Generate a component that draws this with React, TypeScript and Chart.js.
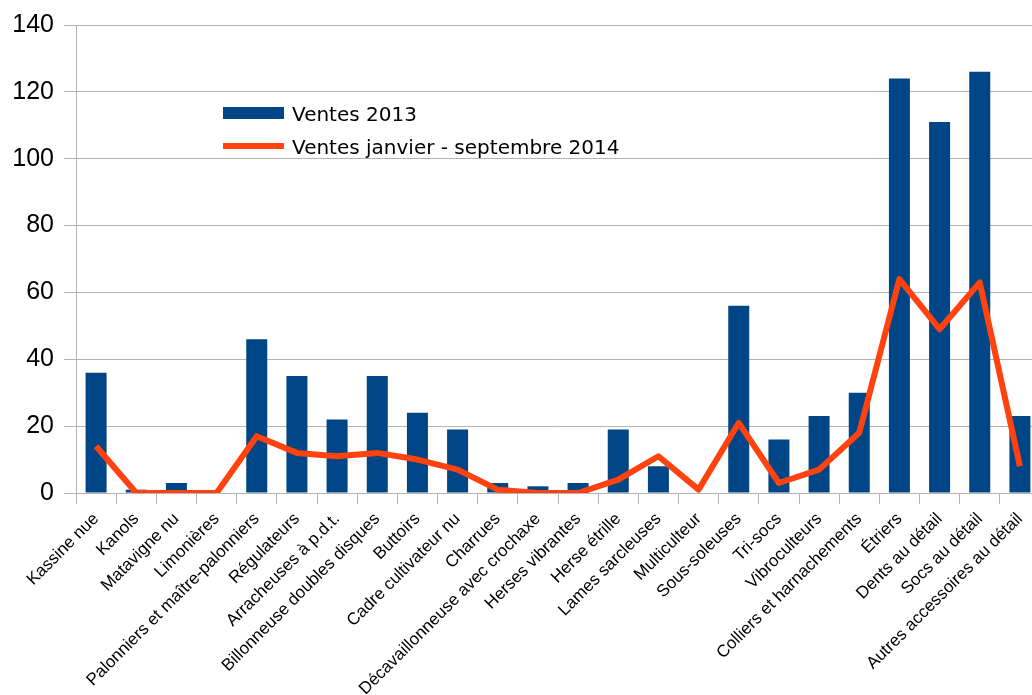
import React, { useEffect, useRef } from "react";
import { Chart, registerables } from "chart.js";

Chart.register(...registerables);

const categories = [
  "Kassine nue",
  "Kanols",
  "Matavigne nu",
  "Limonières",
  "Palonniers et maître-palonniers",
  "Régulateurs",
  "Arracheuses à p.d.t.",
  "Billonneuse doubles disques",
  "Buttoirs",
  "Cadre cultivateur nu",
  "Charrues",
  "Décavaillonneuse avec crochaxe",
  "Herses vibrantes",
  "Herse étrille",
  "Lames sarcleuses",
  "Multiculteur",
  "Sous-soleuses",
  "Tri-socs",
  "Vibroculteurs",
  "Colliers et harnachements",
  "Étriers",
  "Dents au détail",
  "Socs au détail",
  "Autres accessoires au détail",
];

const ventes2013 = [36, 1, 3, 0, 46, 35, 22, 35, 24, 19, 3, 2, 3, 19, 8, 0, 56, 16, 23, 30, 124, 111, 126, 23];
const ventes2014 = [14, 0, 0, 0, 17, 12, 11, 12, 10, 7, 1, 0, 0, 4, 11, 1, 21, 3, 7, 18, 64, 49, 63, 8];

const seriesNames = ["Ventes 2013", "Ventes janvier - septembre 2014"];
const yMin = 0;
const yMax = 140;
const yStep = 20;

const BLUE = "#004586";
const ORANGE = "#ff420e";
const GRID = "#b3b3b3";

const legendPlugin = {
  id: "customLegend",
  afterDraw(chart: any) {
    const ctx = chart.ctx;
    const ds = chart.data.datasets;
    ctx.save();
    ctx.font = "20px 'DejaVu Sans'";
    ctx.textBaseline = "alphabetic";
    ctx.textAlign = "left";
    ctx.fillStyle = ds[0].backgroundColor;
    ctx.fillRect(223, 107, 61, 12);
    ctx.fillStyle = "#000";
    ctx.fillText(ds[0].label, 292, 121);
    ctx.fillStyle = ds[1].borderColor;
    ctx.fillRect(223, 143, 61, 6);
    ctx.fillStyle = "#000";
    ctx.fillText(ds[1].label, 292, 154);
    ctx.restore();
  },
};

export default function App() {
  const ref = useRef<HTMLCanvasElement | null>(null);

  useEffect(() => {
    if (!ref.current) return;
    const chart = new Chart(ref.current, {
      type: "bar",
      data: {
        labels: categories,
        datasets: [
          {
            type: "bar",
            label: seriesNames[0],
            data: ventes2013,
            backgroundColor: BLUE,
            borderWidth: 0,
            barPercentage: 0.523,
            categoryPercentage: 1,
            order: 2,
          },
          {
            type: "line",
            label: seriesNames[1],
            data: ventes2014,
            borderColor: ORANGE,
            backgroundColor: ORANGE,
            borderWidth: 6,
            pointRadius: 0,
            tension: 0,
            borderJoinStyle: "round",
            order: 1,
          } as any,
        ],
      },
      options: {
        responsive: false,
        animation: false,
        layout: { padding: { left: 12, top: 24, right: 2, bottom: 0 } },
        plugins: {
          legend: { display: false },
          tooltip: { enabled: false },
        },
        scales: {
          x: {
            offset: true,
            grid: {
              offset: true,
              drawOnChartArea: false,
              drawTicks: true,
              tickLength: 11,
              color: GRID,
            },
            border: { color: GRID },
            ticks: {
              autoSkip: false,
              maxRotation: 45,
              minRotation: 45,
              padding: 5,
              color: "#000",
              font: { family: "'Liberation Sans'", size: 17 },
            },
            afterFit: (scale: any) => {
              scale.height = 202;
            },
          },
          y: {
            min: yMin,
            max: yMax,
            ticks: {
              stepSize: yStep,
              padding: 10,
              color: "#000",
              font: { family: "'Liberation Sans'", size: 25 },
            },
            grid: { color: GRID, tickLength: 12 },
            border: { color: GRID },
            afterFit: (scale: any) => {
              scale.width = 64;
            },
          },
        },
      },
      plugins: [legendPlugin],
    });
    return () => chart.destroy();
  }, []);

  return (
    <div
      style={{
        position: "fixed",
        left: 0,
        top: 0,
        width: 1032,
        height: 695,
        overflow: "hidden",
        background: "#fff",
      }}
    >
      <canvas ref={ref} width={1042} height={695} style={{ display: "block" }} />
    </div>
  );
}
